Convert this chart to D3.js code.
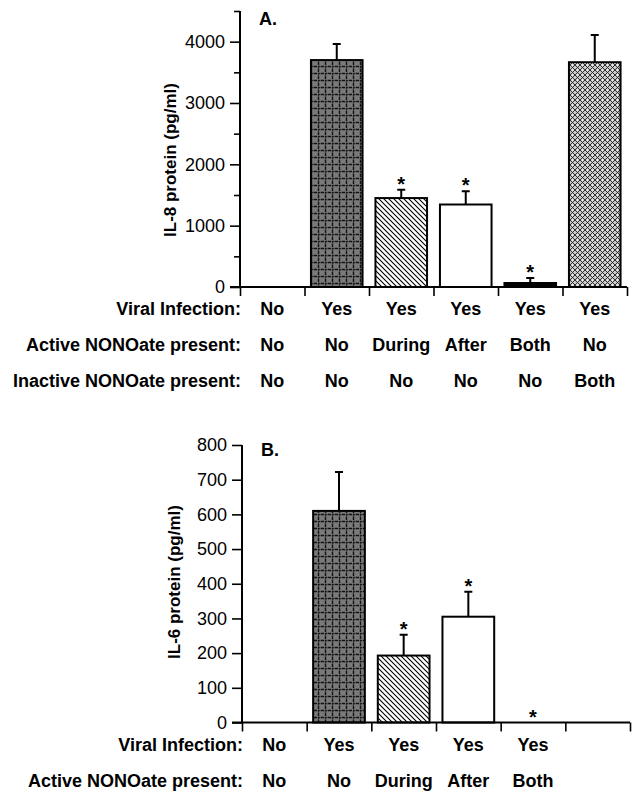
<!DOCTYPE html>
<html>
<head>
<meta charset="utf-8">
<script src="https://cdn.jsdelivr.net/npm/d3@7"></script>
<style>
  html, body { margin: 0; padding: 0; background: #fff; }
  svg { display: block; }
  text { font-family: "Liberation Sans", Arial, Helvetica, sans-serif; fill: #000; }
</style>
</head>
<body>
<svg id="chart" width="633" height="792"></svg>
<script>
// ---------- data ----------
const slots = ["g1", "g2", "g3", "g4", "g5", "g6"];
const rowTitlesA = ["Viral Infection:", "Active NONOate present:", "Inactive NONOate present:"];
const viralInfectionA = ["No", "Yes", "Yes", "Yes", "Yes", "Yes"];
const activeNONOateA = ["No", "No", "During", "After", "Both", "No"];
const inactiveNONOateA = ["No", "No", "No", "No", "No", "Both"];
const il8Mean = [0, 3700, 1450, 1345, 65, 3665];
const il8Sem = [0, 262, 135, 217, 80, 443];
const il8Star = [false, false, true, true, true, false];
const il8Fill = ["none", "grid", "hatch", "white", "black", "diamond"];
const il8MajorTicks = [0, 1000, 2000, 3000, 4000];
const il8MinorTicks = [500, 1500, 2500, 3500, 4500];

const rowTitlesB = ["Viral Infection:", "Active NONOate present:"];
const viralInfectionB = ["No", "Yes", "Yes", "Yes", "Yes"];
const activeNONOateB = ["No", "No", "During", "After", "Both"];
const il6Mean = [0, 610, 193, 305, 0];
const il6Sem = [0, 112, 60, 72, 0];
const il6Star = [false, false, true, true, true];
const il6Fill = ["none", "grid", "hatch", "white", "none"];
const il6Ticks = [0, 100, 200, 300, 400, 500, 600, 700, 800];

// ---------- patterns ----------
const svg = d3.select("#chart");
const defs = svg.append("defs");

const pGrid = defs.append("pattern").attr("id", "grid").attr("patternUnits", "userSpaceOnUse")
  .attr("width", 7).attr("height", 7);
pGrid.append("rect").attr("width", 7).attr("height", 7).attr("fill", "#7a7a7a");
pGrid.append("path").attr("d", "M0,3.5H7M3.5,0V7").attr("stroke", "#111").attr("stroke-width", 1.4)
  .attr("stroke-dasharray", "2,0.8");

const pHatch = defs.append("pattern").attr("id", "hatch").attr("patternUnits", "userSpaceOnUse")
  .attr("width", 5).attr("height", 5);
pHatch.append("rect").attr("width", 5).attr("height", 5).attr("fill", "#fff");
pHatch.append("path").attr("d", "M-1,-1L6,6M-1,4L1,6M4,-1L6,1").attr("stroke", "#000").attr("stroke-width", 1.1);

const pDiamond = defs.append("pattern").attr("id", "diamond").attr("patternUnits", "userSpaceOnUse")
  .attr("width", 5).attr("height", 5);
pDiamond.append("rect").attr("width", 5).attr("height", 5).attr("fill", "#c8c8c8");
pDiamond.append("path").attr("d", "M0,0L5,5M5,0L0,5").attr("stroke", "#222").attr("stroke-width", 0.9);
pDiamond.append("circle").attr("cx", 2.5).attr("cy", 0).attr("r", 0.8).attr("fill", "#fff");
pDiamond.append("circle").attr("cx", 2.5).attr("cy", 5).attr("r", 0.8).attr("fill", "#fff");

function fillFor(k) {
  if (k === "grid") return "url(#grid)";
  if (k === "hatch") return "url(#hatch)";
  if (k === "diamond") return "url(#diamond)";
  if (k === "black") return "#000";
  return "#fff";
}

// ---------- panel drawing ----------
function panel(cfg) {
  const g = svg.append("g");
  const x = d3.scaleBand().domain(slots).range([cfg.x0, cfg.x1]).paddingInner(0.2).paddingOuter(0.1);
  const xi = d3.scaleLinear().domain([0, slots.length]).range([cfg.x0, cfg.x1]);
  const y = d3.scaleLinear().domain([0, cfg.yMax]).range([cfg.y0, cfg.yTop]);

  // bars
  const n = cfg.mean.length;
  const idx = d3.range(n).filter(i => cfg.fill[i] !== "none");
  g.selectAll("rect.bar").data(idx).join("rect")
    .attr("x", i => x(slots[i]))
    .attr("width", x.bandwidth())
    .attr("y", i => y(cfg.mean[i]))
    .attr("height", i => y(0) - y(cfg.mean[i]))
    .attr("fill", i => fillFor(cfg.fill[i]))
    .attr("stroke", "#000").attr("stroke-width", 2);

  // error bars
  const eb = d3.range(n).filter(i => cfg.sem[i] > 0);
  g.selectAll("path.err").data(eb).join("path")
    .attr("d", i => {
      const cx = x(slots[i]) + x.bandwidth() / 2;
      return `M${cx},${y(cfg.mean[i])}V${y(cfg.mean[i] + cfg.sem[i])}M${cx - 4},${y(cfg.mean[i] + cfg.sem[i])}H${cx + 4}`;
    })
    .attr("stroke", "#000").attr("stroke-width", 2).attr("fill", "none");

  // asterisks
  const st = d3.range(n).filter(i => cfg.star[i]);
  g.selectAll("text.star").data(st).join("text")
    .attr("x", i => x(slots[i]) + x.bandwidth() / 2)
    .attr("y", i => y(cfg.mean[i] + cfg.sem[i]) + 1)
    .attr("text-anchor", "middle")
    .attr("font-size", 20).attr("font-weight", "bold")
    .text("*");

  // y axis
  const ya = d3.axisLeft(y).tickValues(cfg.majorTicks).tickSize(10).tickSizeOuter(0).tickPadding(5)
    .tickFormat(d3.format("d"));
  const yg = g.append("g").attr("transform", `translate(${cfg.x0},0)`).call(ya);
  yg.select(".domain").attr("stroke-width", 2).attr("d", `M0,${cfg.y0}V${cfg.yTop}`);
  yg.selectAll(".tick line").attr("stroke-width", 1.6);
  yg.selectAll(".tick text").attr("font-size", 18).attr("font-family", '"Liberation Sans", Arial, sans-serif');
  if (cfg.minorTicks) {
    const ym = d3.axisLeft(y).tickValues(cfg.minorTicks).tickSize(6).tickFormat("");
    const mg = g.append("g").attr("transform", `translate(${cfg.x0},0)`).call(ym);
    mg.select(".domain").remove();
    mg.selectAll(".tick line").attr("stroke-width", 1.6);
  }

  // x axis
  const xa = d3.axisBottom(xi).tickValues(d3.range(slots.length + 1)).tickSize(9).tickFormat("").tickSizeOuter(0);
  const xg = g.append("g").attr("transform", `translate(0,${cfg.y0})`).call(xa);
  xg.select(".domain").attr("stroke-width", 2).attr("d", `M${cfg.x0 - 10},0H${cfg.x1}`);
  xg.selectAll(".tick line").attr("stroke-width", 1.6);

  // row labels
  cfg.rows.forEach((vals, r) => {
    const by = cfg.y0 + cfg.rowFirst + r * 36;
    g.append("text").attr("x", cfg.x0 + 1).attr("y", by).attr("text-anchor", "end")
      .attr("font-size", 18).attr("font-weight", "bold").text(cfg.rowTitles[r]);
    g.selectAll(null).data(vals).join("text")
      .attr("x", (d, i) => x(slots[i]) + x.bandwidth() / 2)
      .attr("y", by).attr("text-anchor", "middle")
      .attr("font-size", 18).attr("font-weight", "bold").text(d => d);
  });

  // y title
  g.append("text")
    .attr("transform", `translate(${cfg.titleX},${cfg.titleY}) rotate(-90)`)
    .attr("text-anchor", "middle").attr("font-size", 17).attr("font-weight", "bold")
    .text(cfg.yTitle);

  // panel letter
  g.append("text").attr("x", cfg.x0 + 19).attr("y", cfg.letterY)
    .attr("font-size", 18).attr("font-weight", "bold").text(cfg.letter);
}

panel({
  x0: 240, x1: 627, y0: 287, yTop: 11, yMax: 4500,
  mean: il8Mean, sem: il8Sem, star: il8Star, fill: il8Fill,
  majorTicks: il8MajorTicks, minorTicks: il8MinorTicks,
  rows: [viralInfectionA, activeNONOateA, inactiveNONOateA], rowTitles: rowTitlesA, rowFirst: 28,
  yTitle: "IL-8 protein (pg/ml)", titleX: 176, titleY: 160,
  letter: "A.", letterY: 25
});

panel({
  x0: 242, x1: 630, y0: 722.5, yTop: 445, yMax: 800,
  mean: il6Mean, sem: il6Sem, star: il6Star, fill: il6Fill,
  majorTicks: il6Ticks, minorTicks: null,
  rows: [viralInfectionB, activeNONOateB], rowTitles: rowTitlesB, rowFirst: 28,
  yTitle: "IL-6 protein (pg/ml)", titleX: 180, titleY: 582,
  letter: "B.", letterY: 456
});
</script>
</body>
</html>
